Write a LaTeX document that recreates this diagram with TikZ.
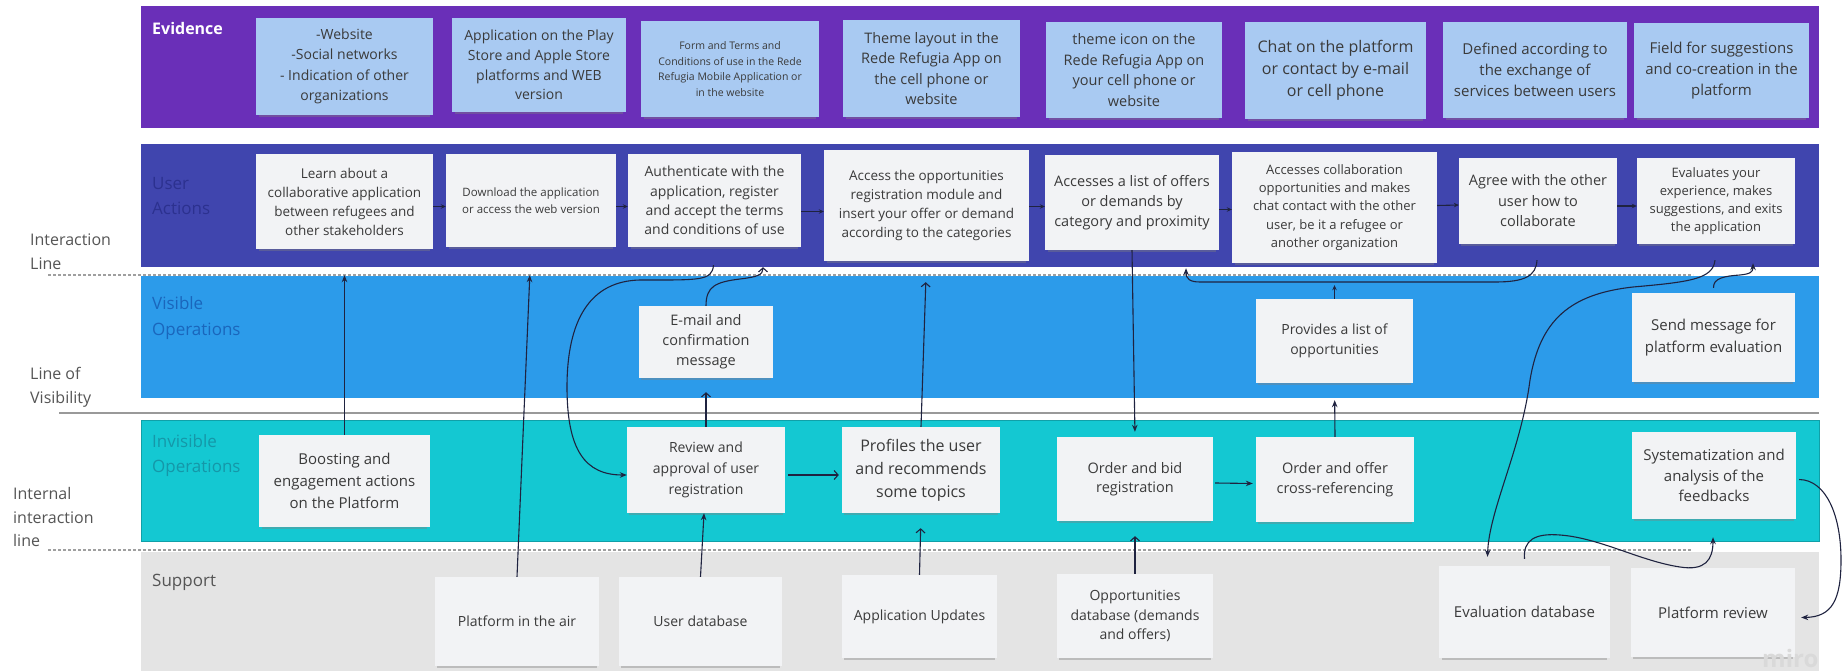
\documentclass[tikz,border=0pt]{standalone}
\usepackage{fontspec}
\setmainfont{Open Sans}
\usetikzlibrary{arrows.meta,shadows,calc}

\definecolor{evband}{HTML}{6A2FB8}
\definecolor{uaband}{HTML}{4045AE}
\definecolor{voband}{HTML}{2C9BEA}
\definecolor{ioband}{HTML}{14C8D2}
\definecolor{spband}{HTML}{E4E4E4}
\definecolor{evfill}{HTML}{A9CAF2}
\definecolor{wfill}{HTML}{F2F3F5}
\definecolor{notetext}{HTML}{3A3A3A}
\definecolor{linkc}{HTML}{1F2340}
\definecolor{sidetext}{HTML}{555555}
\definecolor{uatext}{HTML}{2C318F}
\definecolor{votext}{HTML}{1A66BC}
\definecolor{iotext}{HTML}{1597A8}

\begin{document}
\begin{tikzpicture}[x=1pt,y=-1pt,
  fs/.style 2 args={font=\fontsize{#1}{#2}\selectfont},
  sticky/.style={rectangle, inner sep=2pt, align=center, text=notetext,
    drop shadow={shadow xshift=0pt,shadow yshift=-3.5pt,opacity=0.4,shadow scale=0.97}},
  evsticky/.style={sticky, fill=evfill},
  wsticky/.style={sticky, fill=wfill},
  lanelabel/.style={anchor=west, align=left, inner sep=0pt, fs={17}{25.5}},
  sidelabel/.style={anchor=west, align=left, inner sep=0pt, text=sidetext, fs={16}{23.5}},
  link/.style={draw=linkc, line width=1.1pt},
  fa/.style={link, -{Stealth[length=7pt,width=5.5pt]}},
  oa/.style={link, -{Straight Barb[length=4pt,width=9pt]}},
  sa/.style={link, -{Stealth[length=5pt,width=4.5pt]}},
  divider/.style={draw=gray!75, line width=1.2pt, dash pattern=on 3pt off 2pt}]

\useasboundingbox (0,0) rectangle (1842,671);
\fill[white] (0,0) rectangle (1842,671);

% swim lanes
\fill[evband] (141,6) rectangle (1819,128);
\fill[uaband] (141,144) rectangle (1819,267);
\fill[voband] (141,276) rectangle (1819,398);
\fill[ioband, draw=ioband!80!black, line width=0.8pt] (141,420) rectangle (1819,541);
\fill[spband] (141,552) rectangle (1819,672);

% separating lines
\draw[divider] (48,275) -- (1693,275);
\draw[gray!80, line width=1.4pt] (59,413) -- (1819,413);
\draw[divider] (48,550) -- (1692,550);

% lane titles
\node[anchor=west, inner sep=0pt, text=white, font=\bfseries\fontsize{16}{20}\selectfont] (tEv) at (152,29) {Evidence};
\node[lanelabel, text=uatext] (tUa) at (152,196) {User\\Actions};
\node[lanelabel, text=votext] (tVo) at (152,318) {Visible\\Operations};
\node[lanelabel, text=iotext] (tIo) at (152,455.5) {Invisible\\Operations};
\node[lanelabel, text=sidetext] (tSp) at (152,582) {Support};

% side labels for the lines
\node[sidelabel] (sIl) at (30,251.5) {Interaction\\Line};
\node[sidelabel] (sLv) at (30,387.5) {Line of\\Visibility};
\node[sidelabel] (sIi) at (13,517) {Internal\\interaction\\line};

% evidence
\node[evsticky, fs={14}{20.3}, minimum width=177pt, minimum height=97pt] (E1) at (344.5,66.5) {-Website\\-Social networks\\- Indication of other\\organizations};
\node[evsticky, fs={14}{19.7}, minimum width=174pt, minimum height=94pt] (E2) at (539,65) {Application on the Play\\Store and Apple Store\\platforms and WEB\\version};
\node[evsticky, fs={10.5}{15.5}, minimum width=178pt, minimum height=96pt] (E3) at (730,69) {Form and Terms and\\Conditions of use in the Rede\\Refugia Mobile Application or\\in the website};
\node[evsticky, fs={14.5}{20.3}, minimum width=177pt, minimum height=97pt] (E4) at (931.5,68.5) {Theme layout in the\\Rede Refugia App on\\the cell phone or\\website};
\node[evsticky, fs={14.5}{20.5}, minimum width=176pt, minimum height=96pt] (E5) at (1134,70) {theme icon on the\\Rede Refugia App on\\your cell phone or\\website};
\node[evsticky, fs={16}{22}, minimum width=181pt, minimum height=97pt] (E6) at (1335.5,70.5) {Chat on the platform\\or contact by e-mail\\or cell phone};
\node[evsticky, fs={15}{21}, minimum width=184pt, minimum height=96pt] (E7) at (1535,70) {Defined according to\\the exchange of\\services between users};
\node[evsticky, fs={15}{21}, minimum width=175pt, minimum height=95pt] (E8) at (1721.5,70.5) {Field for suggestions\\and co-creation in the\\platform};

% user actions
\node[wsticky, fs={13.5}{19}, minimum width=177pt, minimum height=95pt] (U1) at (344.5,201.5) {Learn about a\\collaborative application\\between refugees and\\other stakeholders};
\node[wsticky, fs={11.5}{16.7}, minimum width=170pt, minimum height=93pt] (U2) at (531,200.5) {Download the application\\or access the web version};
\node[wsticky, fs={14}{19.3}, minimum width=173pt, minimum height=93pt] (U3) at (714.5,200.5) {Authenticate with the\\application, register\\and accept the terms\\and conditions of use};
\node[wsticky, fs={13.5}{19}, minimum width=205pt, minimum height=111pt] (U4) at (926.5,205.5) {Access the opportunities\\registration module and\\insert your offer or demand\\according to the categories};
\node[wsticky, fs={14.5}{20}, minimum width=174pt, minimum height=95pt] (U5) at (1132,202.5) {Accesses a list of offers\\or demands by\\category and proximity};
\node[wsticky, fs={13}{18.3}, minimum width=205pt, minimum height=111pt] (U6) at (1334.5,207.5) {Accesses collaboration\\opportunities and makes\\chat contact with the other\\user, be it a refugee or\\another organization};
\node[wsticky, fs={14.5}{20.5}, minimum width=158pt, minimum height=86pt] (U7) at (1538,201) {Agree with the other\\user how to\\collaborate};
\node[wsticky, fs={13}{18}, minimum width=158pt, minimum height=86pt] (U8) at (1716,201) {Evaluates your\\experience, makes\\suggestions, and exits\\the application};

% visible operations
\node[wsticky, fs={14.5}{20}, minimum width=134pt, minimum height=72pt] (V1) at (706,342) {E-mail and\\confirmation\\message};
\node[wsticky, fs={14}{20}, minimum width=157pt, minimum height=84pt] (V2) at (1334.5,341) {Provides a list of\\opportunities};
\node[wsticky, fs={15}{21.5}, minimum width=163pt, minimum height=89pt] (V3) at (1713.5,337.5) {Send message for\\platform evaluation};

% invisible operations
\node[wsticky, fs={15}{22}, minimum width=171pt, minimum height=92pt] (I1) at (344.5,481) {Boosting and\\engagement actions\\on the Platform};
\node[wsticky, fs={14}{21}, minimum width=158pt, minimum height=86pt] (I2) at (706,470) {Review and\\approval of user\\registration};
\node[wsticky, fs={16}{23}, minimum width=158pt, minimum height=86pt] (I3) at (921,470) {Profiles the user\\and recommends\\some topics};
\node[wsticky, fs={14.5}{19.5}, minimum width=156pt, minimum height=84pt] (I4) at (1135,479) {Order and bid\\registration};
\node[wsticky, fs={14.5}{19.5}, minimum width=158pt, minimum height=85pt] (I5) at (1335,479.5) {Order and offer\\cross-referencing};
\node[wsticky, fs={15}{20.5}, minimum width=164pt, minimum height=87pt] (I6) at (1714,475.5) {Systematization and\\analysis of the\\feedbacks};

% support
\node[wsticky, fs={14}{20}, minimum width=164pt, minimum height=89pt] (S1) at (517,621.5) {Platform in the air};
\node[wsticky, fs={14}{20}, minimum width=163pt, minimum height=89pt] (S2) at (700.5,621.5) {User database};
\node[wsticky, fs={14}{20}, minimum width=155pt, minimum height=83pt] (S3) at (919.5,616.5) {Application Updates};
\node[wsticky, fs={14}{19.7}, minimum width=156pt, minimum height=84pt] (S4) at (1135,616) {Opportunities\\database (demands\\and offers)};
\node[wsticky, fs={15}{21}, minimum width=171pt, minimum height=92pt] (S5) at (1524.5,612) {Evaluation database};
\node[wsticky, fs={15}{21}, minimum width=164pt, minimum height=89pt] (S6) at (1713,612.5) {Platform review};

\node[anchor=base west, inner sep=0pt, text=gray!30, font=\bfseries\fontsize{24}{24}\selectfont] (wm) at (1762,667) {miro};

% flow between user actions
\draw[sa] ($(U1.east)+(0,5)$) -- ($(U2.west)+(0,6)$);
\draw[sa] ($(U2.east)+(0,6)$) -- ($(U3.west)+(0,6)$);
\draw[sa] ($(U3.east)+(0,11)$) -- ($(U4.west)+(0,6)$);
\draw[sa] ($(U4.east)+(0,1)$) -- ($(U5.west)+(0,4)$);
\draw[sa] ($(U5.east)+(0,7)$) -- ($(U6.west)+(0,2)$);
\draw[sa] ($(U6.east)+(0,-2)$) -- ($(U7.west)+(0,4)$);
\draw[sa] ($(U7.east)+(0,5)$) -- ($(U8.west)+(0,5)$);

% vertical and cross-lane connectors
\draw[fa, shorten >=26pt] (I1.north) -- (U1.south);
\draw[fa, shorten >=28pt] (S1.north) -- (U2.south);
\draw[fa] ($(U3.south)+(-1,18)$) .. controls (712,281) and (700,280) .. (640,280)
  .. controls (590,281) and (567,320) .. (567,387)
  .. controls (567,450) and (585,475) .. ($(I2.west)+(0,5)$);
\draw[oa] (V1.north) .. controls (706,286) and (716,282) .. (740,279)
  .. controls (757,277) and (763,275) .. ($(U3.south)+(48.5,20)$);
\draw[oa, shorten >=14pt] (I2.north) -- (V1.south);
\draw[oa] ($(I2.east)+(3,5)$) -- ($(I3.west)+(-3,5)$);
\draw[oa, shorten >=21pt] (I3.north) -- (U4.south);
\draw[fa] (S2.north) -- ($(I2.south)+(-2,0)$);
\draw[oa, shorten >=15pt] (S3.north) -- (I3.south);
\draw[fa, shorten >=5pt] (U5.south) -- (I4.north);
\draw[oa, shorten >=15pt] (S4.north) -- (I4.south);
\draw[fa] ($(I4.east)+(2,4)$) -- ($(I5.west)+(-3,4)$);
\draw[fa, shorten >=17pt] (I5.north) -- (V2.south);
\draw[sa, shorten >=22pt] (V2.north) -- (U6.south);
\draw[fa] ($(U7.south)+(-1,16)$) .. controls (1536,276) and (1525,282) .. (1495,282)
  -- (1200,282) .. controls (1190,282) and (1186,279) .. ($(U5.south)+(54,18)$);
\draw[fa] ($(U8.south)+(-1,16)$) .. controls (1713,279) and (1690,282) .. (1633,287)
  .. controls (1570,294) and (1540,320) .. (1530,380)
  .. controls (1521,450) and (1489,510) .. ($(S5.north)+(-37,-9)$);
\draw[fa] ($(V3.north)+(0,-5)$) .. controls (1713,278) and (1725,276) .. (1740,275)
  .. controls (1750,274) and (1753,272) .. ($(U8.south)+(37,19)$);
\draw[fa] ($(S5.north)+(0,-7)$) .. controls (1523,540) and (1535,533) .. (1560,535)
  .. controls (1600,538) and (1640,561) .. (1680,567)
  .. controls (1705,571) and (1713,560) .. ($(I6.south)+(-1,18)$);
\draw[fa] ($(I6.east)+(3,4)$) .. controls (1826,480) and (1841,515) .. (1841,560)
  .. controls (1841,600) and (1832,617) .. ($(S6.east)+(6,5)$);

\end{tikzpicture}
\end{document}
